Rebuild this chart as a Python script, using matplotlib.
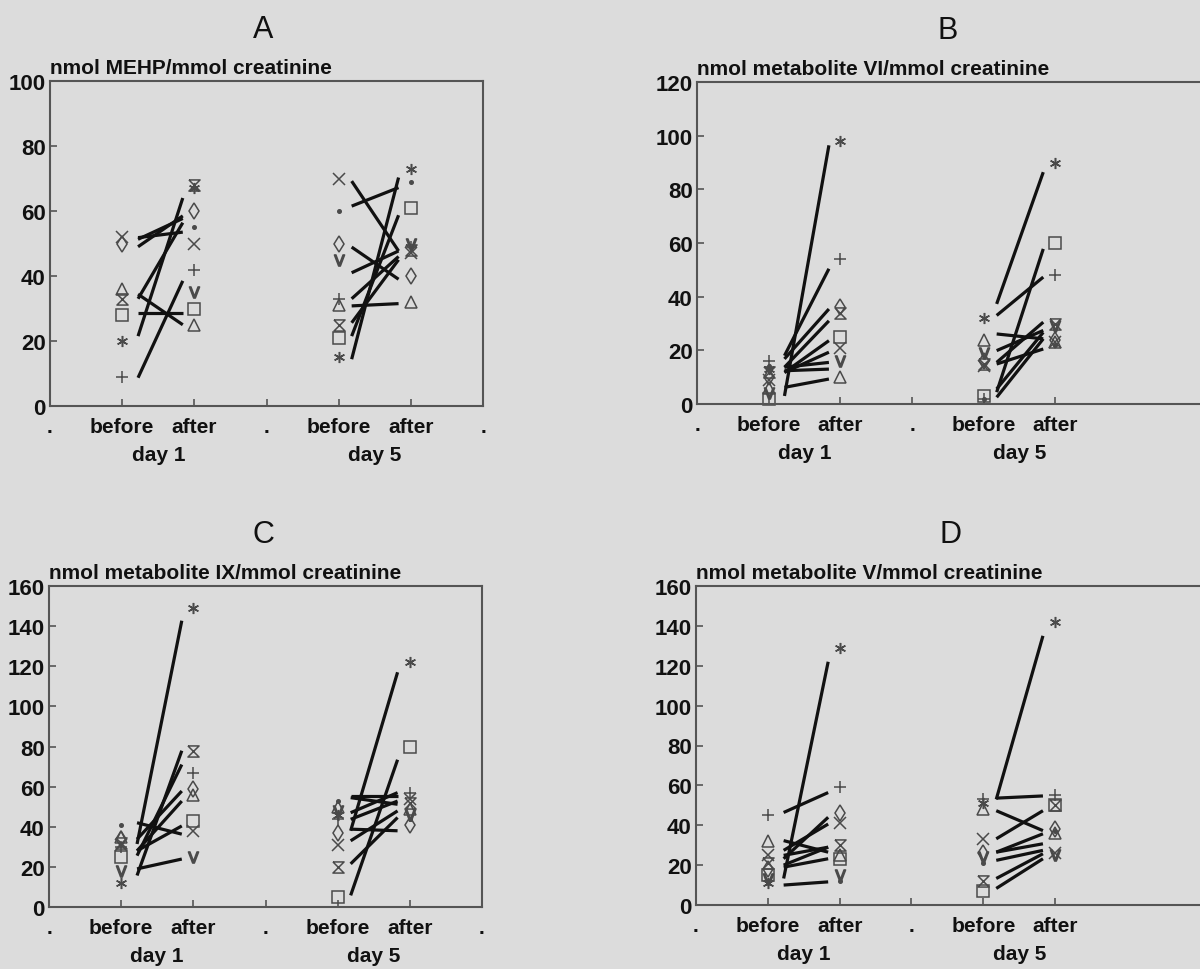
import numpy as np
import matplotlib
matplotlib.use('Agg')
import matplotlib.pyplot as plt

nan = np.nan

# subjects, each with its own symbol: + x * square triangle diamond hourglass V dot
hourglass = [(-1, 1), (1, 1), (-1, -1), (1, -1), (-1, 1)]
markers = ['+', 'x', (6, 2, 0), 's', '^', 'd', hourglass, '$\\mathrm{V}$', '.']
open_marker = [False, False, False, True, True, True, True, False, False]

# ---- panel A : MEHP
A_before1 = [9, 52, 20, 28, 36, 50, 33, nan, nan]
A_after1 = [42, 50, 67, 30, 25, 60, 68, 35, 55]
A_before5 = [33, 70, 15, 21, 31, 50, 25, 45, 60]
A_after5 = [49, 47, 73, 61, 32, 40, 48, 50, 69]
A_line1_start = [51.3, 51.8, 49, 21.5, 34.4, 28.7, 33, 8.7]
A_line1_end = [57.7, 53.5, 58.5, 64, 25, 28.7, 56.4, 38.5]
A_line5_start = [69.2, 61.5, 48.9, 41, 33, 30.8, 21.5, 14.4, 25.6]
A_line5_end = [47.7, 67.2, 39, 47.7, 46, 31.5, 58.7, 70.3, 45]

# ---- panel B : metabolite VI
B_before1 = [16, 9, 13, 2, 6, 10, 12, 4, 14]
B_after1 = [54, 21, 98, 25, 10, 36, 34, 16, nan]
B_before5 = [2, 14, 32, 3, 24, 16, 15, 19, 2]
B_after5 = [48, 23, 90, 60, 23, 24, 30, 29, 22]
B_line1_start = [3, 18, 16.8, 13.7, 11.8, 11.8, 13.7, 12.4, 6.2]
B_line1_end = [96.4, 50.4, 35.4, 31, 23.6, 19.3, 15.5, 13, 9.3]
B_line5_start = [37.3, 33, 4.4, 26.1, 19.9, 15.5, 5.6, 2.5, 14.9]
B_line5_end = [86.4, 47.3, 57.8, 24.3, 27.4, 30.5, 26.7, 24.3, 20.5]

# ---- panel C : metabolite IX
C_before1 = [30, 31, 12, 25, 35, 34, 32, 18, 41]
C_after1 = [67, 38, 149, 43, 56, 59, 78, 25, nan]
C_before5 = [44, 31, 46, 5, 50, 37, 20, 48, 53]
C_after5 = [57, 54, 122, 80, 49, 41, 52, 46, 44]
C_line1_start = [31.4, 15.7, 25.6, 33.8, 28, 19, 42, 28]
C_line1_end = [142.7, 77.9, 71, 57.8, 52.8, 23.9, 36.3, 40.4]
C_line5_start = [38, 5.8, 55.3, 47, 54.5, 43.7, 38.8, 33, 21.5]
C_line5_end = [117, 73.4, 55.3, 57, 51.2, 52.8, 38, 47.9, 44.6]

# ---- panel D : metabolite V
D_before1 = [45, 25, 11, 15, 32, 18, 21, 13, 12]
D_after1 = [59, 41, 129, 23, 25, 46, 30, 15, 12]
D_before5 = [53, 33, 51, 7, 48, 26, 12, 24, 21]
D_after5 = [55, 26, 142, 50, 36, 38, 50, 25, 37]
D_line1_start = [13.3, 46.4, 23.2, 27.4, 32.3, 19, 20, 10, 24.9]
D_line1_end = [122, 56.4, 44, 40.6, 26.5, 23.2, 29, 11.6, 29]
D_line5_start = [53, 53.6, 47.3, 33.2, 26.5, 26.5, 22.4, 13.3, 8.3]
D_line5_end = [135, 54.7, 37.3, 47.3, 35.7, 30.7, 27.4, 25.7, 23.2]

xtick_pos = [0, 1, 2, 3, 4, 5, 6]
xtick_lab = ['.', 'before', 'after', '.', 'before', 'after', '.']

plt.rcParams['font.family'] = ['Liberation Sans', 'DejaVu Sans']
bg = '#dcdcdc'
ink = '#4a4a4a'

fig = plt.figure(figsize=(12, 9.7), dpi=100, facecolor=bg)
W, H = 1200.0, 970.0


def panel(rect, letter, letter_x, ylabel, ymax, xmax,
          b1, a1, b5, a5, l1s, l1e, l5s, l5e):
    left, top, right, bottom = rect
    ax = fig.add_axes([left / W, 1 - bottom / H, (right - left) / W, (bottom - top) / H])
    ax.set_facecolor(bg)
    ax.set_xlim(0, xmax)
    ax.set_ylim(0, ymax)

    # individual symbols
    for k in range(9):
        mfc = 'none' if open_marker[k] else ink
        ms = 8 if markers[k] != '.' else 5
        ax.plot([1, 2, 4, 5], [b1[k], a1[k], b5[k], a5[k]], linestyle='none',
                marker=markers[k], markersize=ms, markeredgecolor=ink,
                markerfacecolor=mfc, markeredgewidth=1.1, clip_on=False)

    # before -> after lines
    for s, e in zip(l1s, l1e):
        ax.plot([1.22, 1.84], [s, e], color='#111111', linewidth=2.3,
                solid_capstyle='butt')
    for s, e in zip(l5s, l5e):
        ax.plot([4.18, 4.83], [s, e], color='#111111', linewidth=2.3,
                solid_capstyle='butt')

    if xmax > 6.5:
        ax.set_xticks(xtick_pos[:6])
        ax.set_xticklabels(xtick_lab[:6])
    else:
        ax.set_xticks(xtick_pos)
        ax.set_xticklabels(xtick_lab)
    ax.set_yticks(np.arange(0, ymax + 1, 20))
    ax.tick_params(direction='in', length=5, width=1.2, colors='#555555',
                   labelcolor='#111111')
    ax.tick_params(axis='x', labelsize=15, pad=8)
    ax.tick_params(axis='y', labelsize=16, pad=3)
    for lab in ax.get_xticklabels() + ax.get_yticklabels():
        lab.set_fontweight('bold')
    for sp in ax.spines.values():
        sp.set_color('#555555')
        sp.set_linewidth(1.5)

    for xd, txt in [(1.5, 'day 1'), (4.5, 'day 5')]:
        ax.annotate(txt, xy=(xd, 0), xycoords=('data', 'axes fraction'),
                    xytext=(0, -35), textcoords='offset points',
                    ha='center', va='center', fontsize=15, fontweight='bold',
                    color='#111111')

    ax.text(0, 1.012, ylabel, transform=ax.transAxes, ha='left', va='bottom',
            fontsize=15, fontweight='bold', color='#111111')
    fig.text(letter_x / W, 1 - (bottom - (bottom - top) - 52) / H, letter,
             ha='center', va='center', fontsize=22, color='#111111')
    return ax


panel((50, 82, 483, 407), 'A', 263, 'nmol MEHP/mmol creatinine', 100, 6,
      A_before1, A_after1, A_before5, A_after5,
      A_line1_start, A_line1_end, A_line5_start, A_line5_end)
panel((697, 83, 1206, 405), 'B', 948, 'nmol metabolite VI/mmol creatinine', 120, 7.1,
      B_before1, B_after1, B_before5, B_after5,
      B_line1_start, B_line1_end, B_line5_start, B_line5_end)
panel((49, 587, 482, 908), 'C', 263, 'nmol metabolite IX/mmol creatinine', 160, 6,
      C_before1, C_after1, C_before5, C_after5,
      C_line1_start, C_line1_end, C_line5_start, C_line5_end)
panel((696, 587, 1206, 906), 'D', 950, 'nmol metabolite V/mmol creatinine', 160, 7.1,
      D_before1, D_after1, D_before5, D_after5,
      D_line1_start, D_line1_end, D_line5_start, D_line5_end)

plt.savefig('out.png', dpi=100, facecolor=bg)
